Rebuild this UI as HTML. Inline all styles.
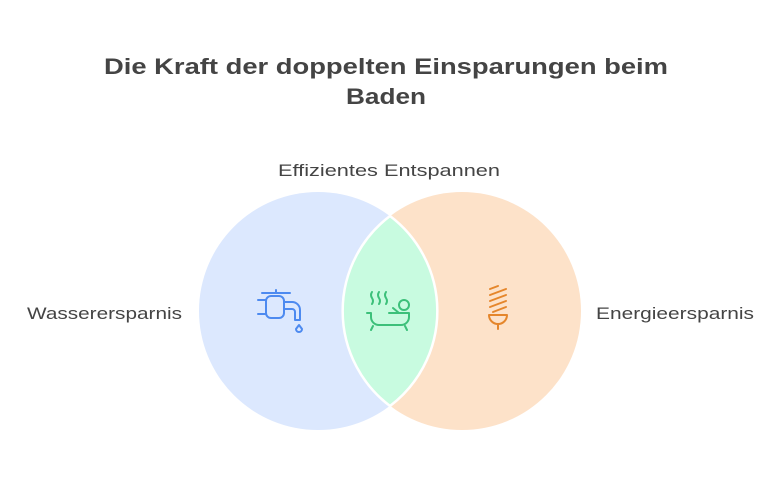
<!DOCTYPE html>
<html><head><meta charset="utf-8"><style>
html,body{margin:0;padding:0;background:#fff;}
svg{display:block;}
text{font-family:"Liberation Sans",sans-serif;fill:#444;}
</style></head><body>
<svg width="783" height="480" viewBox="0 0 783 480" xmlns="http://www.w3.org/2000/svg">
<rect width="783" height="480" fill="#fff"/>
<text x="386" y="74" text-anchor="middle" font-size="22" font-weight="bold" textLength="564" lengthAdjust="spacingAndGlyphs">Die Kraft der doppelten Einsparungen beim</text>
<text x="386" y="104" text-anchor="middle" font-size="22" font-weight="bold" textLength="80" lengthAdjust="spacingAndGlyphs">Baden</text>
<text x="389" y="176" text-anchor="middle" font-size="17" textLength="222" lengthAdjust="spacingAndGlyphs">Effizientes Entspannen</text>
<text x="27" y="319" font-size="17" textLength="155" lengthAdjust="spacingAndGlyphs">Wasserersparnis</text>
<text x="596" y="319" font-size="17" textLength="158" lengthAdjust="spacingAndGlyphs">Energieersparnis</text>
<circle cx="318" cy="311" r="119" fill="#dce8fe"/>
<circle cx="462" cy="311" r="119" fill="#fde2c9"/>
<path d="M390 216 A119 119 0 0 1 390 406 A119 119 0 0 1 390 216 Z" fill="#c8fbe0" stroke="#fff" stroke-width="2.5"/>
<g fill="none" stroke="#4d8af0" stroke-width="2" stroke-linecap="round" stroke-linejoin="round">
<path d="M262 293 H290 M276 290 v3"/>
<rect x="266" y="296" width="18" height="22" rx="5"/>
<path d="M258 300 h8 M258 314 h8"/>
<path d="M284 302 h8 a8 8 0 0 1 8 8 v10 h-5 v-8 a3 3 0 0 0 -3 -3 h-8"/>
<path d="M299 325 l-3 4 a3 3 0 1 0 6 0 z"/>
</g>
<g fill="none" stroke="#3cc07a" stroke-width="2" stroke-linecap="round" stroke-linejoin="round">
<path d="M372 292 q-2 3 0 6 q2 3 0 6 M379 292 q-2 3 0 6 q2 3 0 6 M386 292 q-2 3 0 6 q2 3 0 6"/>
<circle cx="404" cy="305" r="5"/>
<path d="M367 313 h4 v4 a8 8 0 0 0 8 8 h22 a8 8 0 0 0 8 -8 v-4 M389 313 h20 M399 313 l-6 -5"/>
<path d="M373 326 l-2 4 M405 326 l2 4"/>
</g>
<g fill="none" stroke="#e5862b" stroke-width="2" stroke-linecap="round" stroke-linejoin="round">
<path d="M490 289 l8 -3 M490 295 l16 -6 M490 301 l16 -6 M490 307 l16 -6 M493 312 l13 -5"/>
<path d="M489 315 h18 a9 9 0 0 1 -18 0 z"/>
<path d="M498 324 v5"/>
</g>
</svg>
</body></html>
